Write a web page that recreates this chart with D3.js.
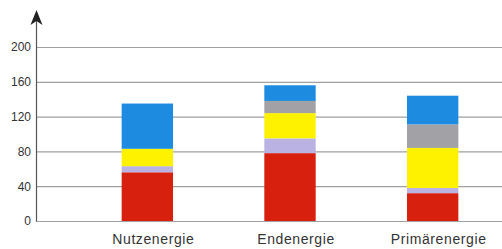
<!DOCTYPE html>
<html>
<head>
<meta charset="utf-8">
<script src="https://cdn.jsdelivr.net/npm/d3@7"></script>
<style>
  body { margin: 0; background: #fff; }
</style>
</head>
<body>
<div id="chart"></div>
<script>
// Kategorien und Werte
let categories = ["Nutzenergie", "Endenergie", "Primärenergie"];
let red      = [56, 78, 32];
let lavender = [7, 17, 6];
let yellow   = [20, 29, 46];
let grey     = [0, 14, 27];
let blue     = [52, 18, 33];
let yTicks = [0, 40, 80, 120, 160, 200];

let seriesNames = ["red", "lavender", "yellow", "grey", "blue"];
let seriesColors = ["#d8200f", "#b9b2e2", "#fff200", "#a2a2a6", "#1d8be0"];

let table = categories.map(function(c, i) {
  return {cat: c, red: red[i], lavender: lavender[i], yellow: yellow[i], grey: grey[i], blue: blue[i]};
});

let width = 502;
let height = 249;
let margin = {"top": 47, "bottom": 28, "right": 0, "left": 36};

let svg = d3.select("#chart")
  .append("svg")
  .attr("width", width)
  .attr("height", height);

let xScale = d3.scaleBand()
  .domain(categories)
  .range([76, 504])
  .paddingInner(0.64)
  .paddingOuter(0.32);

let yScale = d3.scaleLinear()
  .domain([0, 200])
  .range([height - margin.bottom, margin.top]);

// Gitterlinien
svg.append("g")
  .selectAll("line")
  .data(yTicks)
  .enter()
  .append("line")
  .attr("x1", margin.left)
  .attr("x2", width)
  .attr("y1", function(d) { return yScale(d) + 0.5; })
  .attr("y2", function(d) { return yScale(d) + 0.5; })
  .attr("stroke", "#a0a0a0")
  .attr("stroke-width", 1.2);

// y-Achse
let axisy = d3.axisLeft(yScale).tickValues(yTicks).tickSize(0).tickPadding(5);
let gy = svg.append("g")
  .attr("transform", "translate(" + margin.left + ",0)")
  .call(axisy);
gy.select(".domain").remove();
gy.selectAll("text")
  .attr("font-family", "Liberation Sans, Arial, sans-serif")
  .attr("font-size", "12px")
  .attr("fill", "#333");

svg.append("line")
  .attr("x1", margin.left + 0.5)
  .attr("x2", margin.left + 0.5)
  .attr("y1", yScale(0) + 0.5)
  .attr("y2", 20)
  .attr("stroke", "#555")
  .attr("stroke-width", 1.2);

svg.append("path")
  .attr("d", "M" + (margin.left + 0.5) + ",10 L" + (margin.left + 6.5) + ",25 L" + (margin.left + 0.5) + ",21 L" + (margin.left - 5.5) + ",25 Z")
  .attr("fill", "#222");

// Balken
let stack = d3.stack().keys(seriesNames)(table);

svg.append("g")
  .selectAll("g")
  .data(stack)
  .enter()
  .append("g")
  .attr("fill", function(d, i) { return seriesColors[i]; })
  .selectAll("rect")
  .data(function(d) { return d; })
  .enter()
  .append("rect")
  .attr("x", function(d) { return xScale(d.data.cat); })
  .attr("y", function(d) { return yScale(d[1]); })
  .attr("width", xScale.bandwidth())
  .attr("height", function(d) { return yScale(d[0]) - yScale(d[1]); });

// Kategorien
svg.append("g")
  .selectAll("text")
  .data(categories)
  .enter()
  .append("text")
  .attr("x", function(d) { return xScale(d) + xScale.bandwidth() / 2 + 6; })
  .attr("y", 244)
  .attr("text-anchor", "middle")
  .attr("font-family", "Liberation Sans, Arial, sans-serif")
  .attr("font-size", "14px")
  .attr("letter-spacing", "0.6px")
  .attr("fill", "#333")
  .text(function(d) { return d; });
</script>
</body>
</html>
